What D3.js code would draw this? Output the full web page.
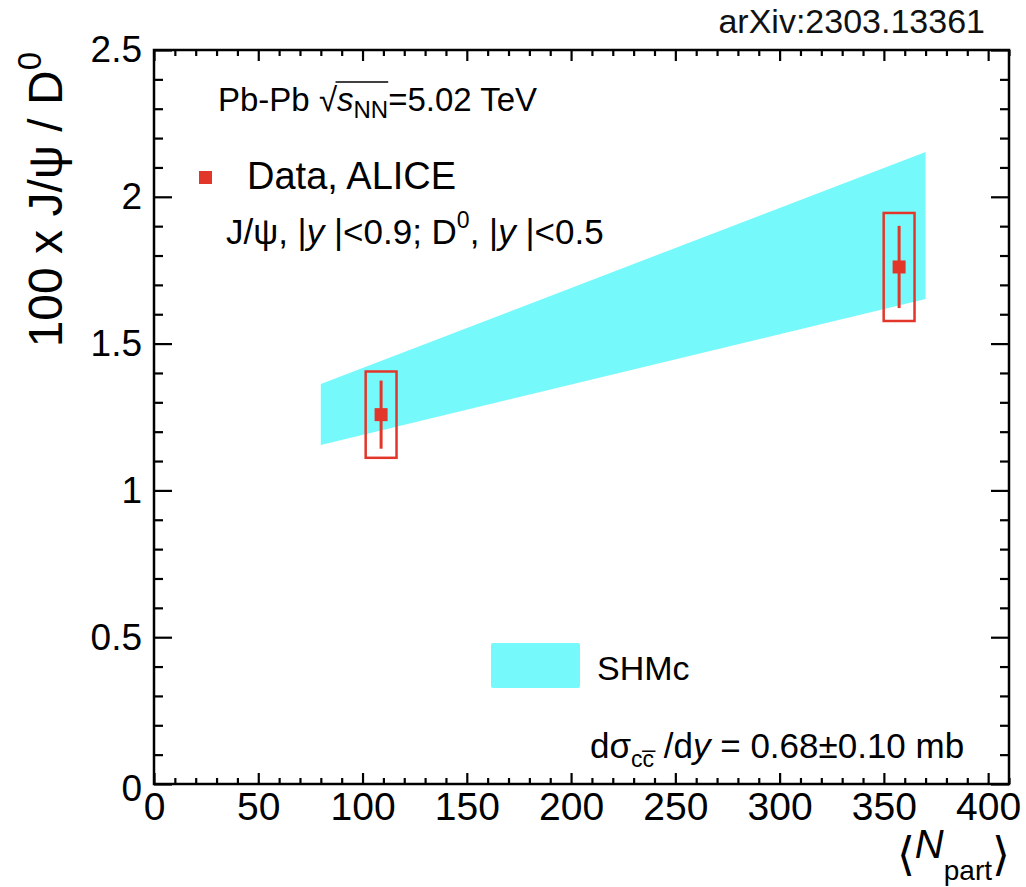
<!DOCTYPE html>
<html>
<head>
<meta charset="utf-8">
<script src="https://cdn.jsdelivr.net/npm/d3@7"></script>
<style>
  body { margin: 0; background: #fff; }
  text { font-family: "Liberation Sans", Arial, Helvetica, sans-serif; fill: #000; }
</style>
</head>
<body>
<div id="chart"></div>
<script>
// ALICE data points (J/psi over D0 ratio x 100)
var npart = [108.9, 357.3];
var ratio = [1.258, 1.761];
var statErr = [0.116, 0.14];
var sysErr = [0.147, 0.184];
var sysHalfWidth = 7.4;

// SHMc band edges
var bandX = [80, 370];
var bandLow = [1.155, 1.652];
var bandHigh = [1.362, 2.153];

// Axis ticks
var xMajor = [0, 50, 100, 150, 200, 250, 300, 350, 400];
var yMajor = [0, 0.5, 1, 1.5, 2, 2.5];

var red = "#e3362a";
var cyan = "#76f9fb";

var svgWidth = 1026;
var svgHeight = 887;

var margin = { top: 50, right: 17, bottom: 103, left: 154 };
var chartWidth = svgWidth - margin.left - margin.right;
var chartHeight = svgHeight - margin.top - margin.bottom;

var svg = d3
  .select("#chart")
  .append("svg")
  .attr("width", svgWidth)
  .attr("height", svgHeight);

var chartGroup = svg
  .append("g")
  .attr("transform", `translate(${margin.left}, ${margin.top})`);

var xScale = d3.scaleLinear().domain([0, 410]).range([0, chartWidth]);
var yScale = d3.scaleLinear().domain([0, 2.5]).range([chartHeight, 0]);

// Model band
var bandPoints = bandX.map((x, i) => ({ x: x, lo: bandLow[i], hi: bandHigh[i] }));
chartGroup
  .append("path")
  .datum(bandPoints)
  .attr("fill", cyan)
  .attr(
    "d",
    d3
      .area()
      .x((d) => xScale(d.x))
      .y0((d) => yScale(d.lo))
      .y1((d) => yScale(d.hi))
  );

// Data points
var points = npart.map((x, i) => ({ x: x, y: ratio[i], stat: statErr[i], sys: sysErr[i] }));

// systematic boxes
chartGroup
  .selectAll(".sys")
  .data(points)
  .enter()
  .append("rect")
  .attr("x", (d) => xScale(d.x - sysHalfWidth))
  .attr("y", (d) => yScale(d.y + d.sys))
  .attr("width", (d) => xScale(d.x + sysHalfWidth) - xScale(d.x - sysHalfWidth))
  .attr("height", (d) => yScale(d.y - d.sys) - yScale(d.y + d.sys))
  .attr("fill", "none")
  .attr("stroke", red)
  .attr("stroke-width", 2.5);

// statistical error bars
chartGroup
  .selectAll(".stat")
  .data(points)
  .enter()
  .append("line")
  .attr("x1", (d) => xScale(d.x))
  .attr("x2", (d) => xScale(d.x))
  .attr("y1", (d) => yScale(d.y + d.stat))
  .attr("y2", (d) => yScale(d.y - d.stat))
  .attr("stroke", red)
  .attr("stroke-width", 3);

// markers
var markerSize = 13;
chartGroup
  .selectAll(".marker")
  .data(points)
  .enter()
  .append("rect")
  .attr("x", (d) => xScale(d.x) - markerSize / 2)
  .attr("y", (d) => yScale(d.y) - markerSize / 2)
  .attr("width", markerSize)
  .attr("height", markerSize)
  .attr("fill", red);

// Axes with inward ticks on all four sides
var xMinor = d3.range(0, 411, 10).filter((v) => v % 50 !== 0);
var yMinor = d3.range(1, 25).map((v) => v / 10).filter((v, i) => (i + 1) % 5 !== 0);

var bottomAxis = d3
  .axisBottom(xScale)
  .tickValues(xMajor)
  .tickSizeInner(-11)
  .tickSizeOuter(0)
  .tickPadding(8)
  .tickFormat(d3.format("d"));
var xAxisG = chartGroup
  .append("g")
  .attr("transform", `translate(0, ${chartHeight})`)
  .call(bottomAxis);
xAxisG.selectAll("text").attr("font-size", 39).attr("dy", "0.71em");

chartGroup
  .append("g")
  .attr("transform", `translate(0, ${chartHeight})`)
  .call(d3.axisBottom(xScale).tickValues(xMinor).tickSizeInner(-6).tickSizeOuter(0).tickFormat(""));

chartGroup
  .append("g")
  .call(d3.axisTop(xScale).tickValues(xMajor).tickSizeInner(-11).tickSizeOuter(0).tickFormat(""));
chartGroup
  .append("g")
  .call(d3.axisTop(xScale).tickValues(xMinor).tickSizeInner(-6).tickSizeOuter(0).tickFormat(""));

var leftAxis = d3
  .axisLeft(yScale)
  .tickValues(yMajor)
  .tickSizeInner(-18)
  .tickSizeOuter(0)
  .tickPadding(12)
  .tickFormat(d3.format("~g"));
var yAxisG = chartGroup.append("g").call(leftAxis);
yAxisG.selectAll("text").attr("font-size", 37);
// ROOT pushes the zero label down a little
yAxisG
  .selectAll(".tick")
  .filter((d) => d === 0)
  .select("text")
  .attr("dy", "0.45em");

chartGroup
  .append("g")
  .call(d3.axisLeft(yScale).tickValues(yMinor).tickSizeInner(-9).tickSizeOuter(0).tickFormat(""));

chartGroup
  .append("g")
  .attr("transform", `translate(${chartWidth}, 0)`)
  .call(d3.axisRight(yScale).tickValues(yMajor).tickSizeInner(-18).tickSizeOuter(0).tickFormat(""));
chartGroup
  .append("g")
  .attr("transform", `translate(${chartWidth}, 0)`)
  .call(d3.axisRight(yScale).tickValues(yMinor).tickSizeInner(-9).tickSizeOuter(0).tickFormat(""));

chartGroup.selectAll(".domain").remove();
chartGroup.selectAll(".tick line").attr("stroke", "#000").attr("stroke-width", 2.2);

// frame
chartGroup
  .append("rect")
  .attr("width", chartWidth)
  .attr("height", chartHeight)
  .attr("fill", "none")
  .attr("stroke", "#000")
  .attr("stroke-width", 2.5);

// Y axis title
var yTitle = svg
  .append("text")
  .attr("transform", "rotate(-90)")
  .attr("x", -52)
  .attr("y", 62)
  .attr("text-anchor", "end")
  .attr("font-size", 48);
yTitle.append("tspan").text("100 x J/\u03C8 / D");
yTitle.append("tspan").attr("font-size", 33).attr("dy", -21).text("0");

// X axis title
var xTitle = svg
  .append("text")
  .attr("x", 1010)
  .attr("y", 858)
  .attr("text-anchor", "end")
  .attr("font-size", 40);
xTitle.append("tspan").attr("font-size", 46).attr("dy", 12).text("\u27E8");
xTitle.append("tspan").attr("font-style", "italic").attr("dy", -12).text("N");
xTitle.append("tspan").attr("font-size", 28).attr("dy", 22).text("part");
xTitle.append("tspan").attr("font-size", 46).attr("dy", -10).text("\u27E9");

// arXiv tag
svg
  .append("text")
  .attr("x", 985)
  .attr("y", 33)
  .attr("text-anchor", "end")
  .attr("font-size", 34)
  .style("fill", "#111")
  .text("arXiv:2303.13361");

// Collision system label
var sysLabel = svg.append("text").attr("x", 218).attr("y", 111).attr("font-size", 33);
sysLabel.append("tspan").text("Pb-Pb ");
sysLabel.append("tspan").text("\u221A");
sysLabel.append("tspan").attr("font-style", "italic").text("s");
sysLabel.append("tspan").attr("font-size", 24).attr("dy", 7).text("NN");
sysLabel.append("tspan").attr("dy", -7).text("=5.02 TeV");
// overline of the square root, measured from the rendered glyphs
var sysNode = sysLabel.node();
var rootBox = sysNode.getExtentOfChar(6);
var nnEnd = sysNode.getExtentOfChar(9);
svg
  .append("line")
  .attr("x1", rootBox.x + rootBox.width - 1.5)
  .attr("x2", nnEnd.x + nnEnd.width)
  .attr("y1", 111 - 29)
  .attr("y2", 111 - 29)
  .attr("stroke", "#000")
  .attr("stroke-width", 1.5);

// Data legend
svg
  .append("rect")
  .attr("x", 199)
  .attr("y", 171)
  .attr("width", 13)
  .attr("height", 13)
  .attr("fill", red);
svg
  .append("text")
  .attr("x", 247)
  .attr("y", 189)
  .attr("font-size", 38)
  .text("Data, ALICE");

var rapLabel = svg.append("text").attr("x", 226).attr("y", 244).attr("font-size", 35);
rapLabel.append("tspan").text("J/\u03C8, |");
rapLabel.append("tspan").attr("font-style", "italic").text("y");
rapLabel.append("tspan").text(" |<0.9; D");
rapLabel.append("tspan").attr("font-size", 23).attr("dy", -16).text("0");
rapLabel.append("tspan").attr("dy", 16).text(", |");
rapLabel.append("tspan").attr("font-style", "italic").text("y");
rapLabel.append("tspan").text(" |<0.5");

// SHMc legend
svg
  .append("rect")
  .attr("x", 491)
  .attr("y", 643)
  .attr("width", 89)
  .attr("height", 45)
  .attr("rx", 2)
  .attr("fill", cyan);
svg
  .append("text")
  .attr("x", 597)
  .attr("y", 680)
  .attr("font-size", 34)
  .text("SHMc");

var xsLabel = svg.append("text").attr("x", 590).attr("y", 758).attr("font-size", 35);
xsLabel.append("tspan").text("d\u03C3");
xsLabel.append("tspan").attr("font-size", 23).attr("dy", 9).text("cc\u0305");
xsLabel.append("tspan").attr("dy", -9).text(" /d");
xsLabel.append("tspan").attr("font-style", "italic").text("y");
xsLabel.append("tspan").text(" = 0.68\u00B10.10 mb");
</script>
</body>
</html>
